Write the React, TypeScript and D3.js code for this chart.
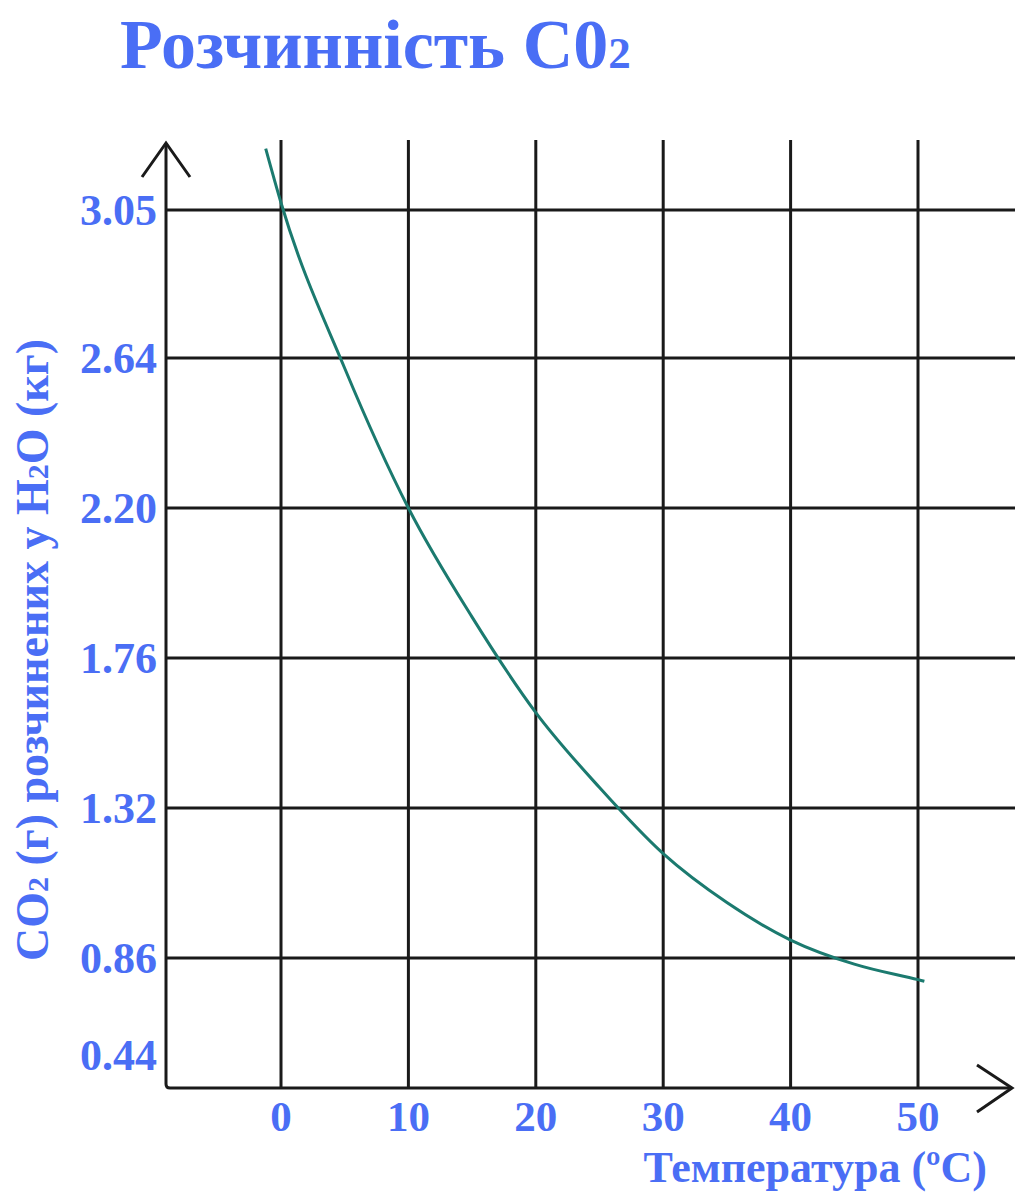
import React from 'react'
import * as d3 from 'd3'

const width = 1024
const height = 1199

// temperature (ºC) and dissolved CO2 (g per kg of water)
const temps = [-1.2, 0, 5, 10, 15, 20, 25, 30, 35, 40, 45, 50, 50.5]
const co2 = [3.22, 3.07, 2.61, 2.2, 1.88, 1.6, 1.38, 1.18, 1.03, 0.915, 0.84, 0.79, 0.785]

const xTicks = [0, 10, 20, 30, 40, 50]
const yTicks = [0.44, 0.86, 1.32, 1.76, 2.2, 2.64, 3.05]
const yGrid = [0.86, 1.32, 1.76, 2.2, 2.64, 3.05]

const blue = '#4a6ef5'
const teal = '#1b7a6f'
const ink = '#1a1a1a'
const font = '"Liberation Serif", "Times New Roman", serif'

const x = d3.scaleLinear().domain([0, 50]).range([281, 918])
// grid rows are evenly spaced even though the labels are not
const y = d3
    .scaleLinear()
    .domain(yTicks)
    .range([1088, 958, 808, 658, 508, 358, 210])

const axisLeft = 166
const axisBottom = 1088
const gridTop = 140
const gridRight = 1015

const line = d3
    .line<number>()
    .x((d, i) => x(temps[i]))
    .y((d) => y(d))
    .curve(d3.curveMonotoneX)

const App = () => {
    return (
        <svg
            width={width}
            height={height}
            style={{ position: 'absolute', left: 0, top: 0, background: '#fff' }}
            fontFamily={font}
            fontWeight="bold"
        >
            <text x={120} y={68} fill={blue} fontSize={70}>
                Розчинність C0<tspan fontSize={45}>2</tspan>
            </text>

            {/* grid */}
            {yGrid.map((v) => (
                <line key={v} x1={axisLeft} x2={gridRight} y1={y(v)} y2={y(v)} stroke={ink} strokeWidth={3} />
            ))}
            {xTicks.map((t) => (
                <line key={t} x1={x(t)} x2={x(t)} y1={gridTop} y2={axisBottom} stroke={ink} strokeWidth={3} />
            ))}

            {/* axes with arrows */}
            <path
                d={`M${axisLeft},143 L${axisLeft},${axisBottom - 4} Q${axisLeft},${axisBottom} ${axisLeft + 4},${axisBottom} L1012,${axisBottom}`}
                fill="none"
                stroke={ink}
                strokeWidth={3}
            />
            <path d={`M142,177 L${axisLeft},143 L190,177`} fill="none" stroke={ink} strokeWidth={3} />
            <path d={`M977,1065 L1012,${axisBottom} L977,1112`} fill="none" stroke={ink} strokeWidth={3} />

            {/* curve */}
            <path d={line(co2) || ''} fill="none" stroke={teal} strokeWidth={3} />

            {/* y tick labels */}
            {yTicks.map((v) => (
                <text
                    key={v}
                    x={157}
                    y={v === 0.44 ? 1055 : y(v)}
                    dy="0.35em"
                    textAnchor="end"
                    fill={blue}
                    fontSize={44}
                >
                    {v.toFixed(2)}
                </text>
            ))}

            {/* x tick labels */}
            {xTicks.map((t) => (
                <text key={t} x={x(t)} y={1131} textAnchor="middle" fill={blue} fontSize={43}>
                    {t}
                </text>
            ))}

            <text x={987} y={1182} textAnchor="end" fill={blue} fontSize={44}>
                Температура (ºC)
            </text>

            <text
                transform="translate(48, 650) rotate(-90)"
                textAnchor="middle"
                fill={blue}
                fontSize={46}
            >
                CO<tspan fontSize={30}>2</tspan> (г) розчинених у H<tspan fontSize={30}>2</tspan>O (кг)
            </text>
        </svg>
    )
}

export default App
